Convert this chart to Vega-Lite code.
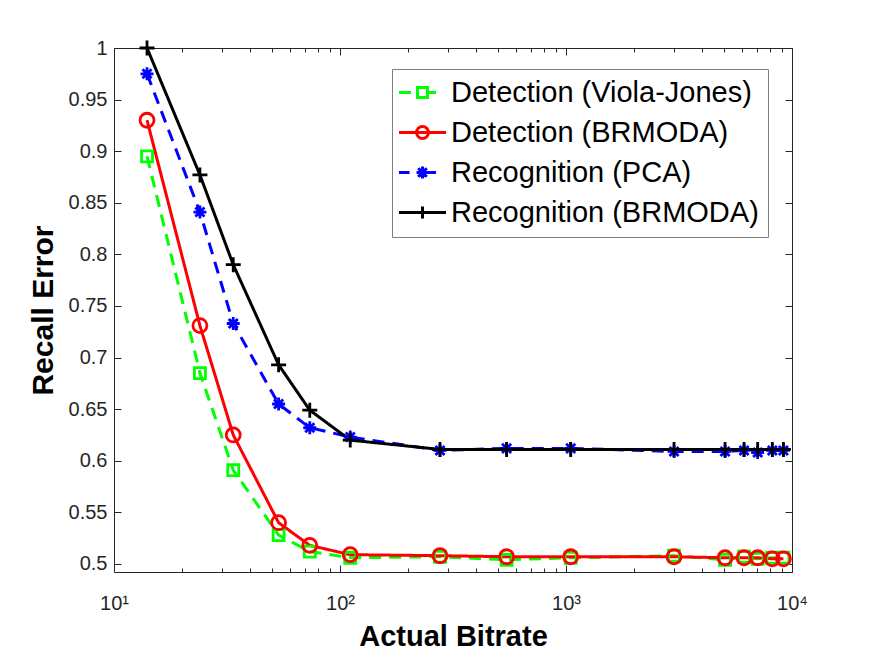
{
  "$schema": "https://vega.github.io/schema/vega-lite/v6.json",
  "width": 678,
  "height": 524,
  "autosize": {"type": "none"},
  "padding": {"left": 114, "top": 48, "right": 83, "bottom": 85},
  "background": "white",
  "config": {
    "font": "Liberation Sans",
    "view": {"stroke": "#262626", "strokeWidth": 1},
    "axis": {"domain": false, "grid": false, "tickColor": "#262626", "tickWidth": 1, "labelColor": "#262626", "titleColor": "#262626"},
    "legend": {"symbolOpacity": 1}
  },
  "data": {"values": [
    {"s": "Detection (Viola-Jones)", "x": 14, "y": 0.895},
    {"s": "Detection (Viola-Jones)", "x": 24, "y": 0.685},
    {"s": "Detection (Viola-Jones)", "x": 33.7, "y": 0.591},
    {"s": "Detection (Viola-Jones)", "x": 53.5, "y": 0.528},
    {"s": "Detection (Viola-Jones)", "x": 73.5, "y": 0.512},
    {"s": "Detection (Viola-Jones)", "x": 111, "y": 0.506},
    {"s": "Detection (Viola-Jones)", "x": 277, "y": 0.507},
    {"s": "Detection (Viola-Jones)", "x": 546, "y": 0.504},
    {"s": "Detection (Viola-Jones)", "x": 1049, "y": 0.506},
    {"s": "Detection (Viola-Jones)", "x": 3006, "y": 0.508},
    {"s": "Detection (Viola-Jones)", "x": 5056, "y": 0.504},
    {"s": "Detection (Viola-Jones)", "x": 6135, "y": 0.507},
    {"s": "Detection (Viola-Jones)", "x": 7048, "y": 0.505},
    {"s": "Detection (Viola-Jones)", "x": 8183, "y": 0.506},
    {"s": "Detection (Viola-Jones)", "x": 9161, "y": 0.506},
    {"s": "Detection (BRMODA)", "x": 14, "y": 0.930},
    {"s": "Detection (BRMODA)", "x": 24, "y": 0.731},
    {"s": "Detection (BRMODA)", "x": 33.7, "y": 0.625},
    {"s": "Detection (BRMODA)", "x": 53.5, "y": 0.540},
    {"s": "Detection (BRMODA)", "x": 73.5, "y": 0.518},
    {"s": "Detection (BRMODA)", "x": 111, "y": 0.509},
    {"s": "Detection (BRMODA)", "x": 277, "y": 0.508},
    {"s": "Detection (BRMODA)", "x": 546, "y": 0.507},
    {"s": "Detection (BRMODA)", "x": 1049, "y": 0.507},
    {"s": "Detection (BRMODA)", "x": 3006, "y": 0.507},
    {"s": "Detection (BRMODA)", "x": 5056, "y": 0.506},
    {"s": "Detection (BRMODA)", "x": 6135, "y": 0.506},
    {"s": "Detection (BRMODA)", "x": 7048, "y": 0.506},
    {"s": "Detection (BRMODA)", "x": 8183, "y": 0.505},
    {"s": "Detection (BRMODA)", "x": 9161, "y": 0.505},
    {"s": "Recognition (PCA)", "x": 14, "y": 0.975},
    {"s": "Recognition (PCA)", "x": 24, "y": 0.841},
    {"s": "Recognition (PCA)", "x": 33.7, "y": 0.733},
    {"s": "Recognition (PCA)", "x": 53.5, "y": 0.655},
    {"s": "Recognition (PCA)", "x": 73.5, "y": 0.632},
    {"s": "Recognition (PCA)", "x": 111, "y": 0.623},
    {"s": "Recognition (PCA)", "x": 277, "y": 0.610},
    {"s": "Recognition (PCA)", "x": 546, "y": 0.612},
    {"s": "Recognition (PCA)", "x": 1049, "y": 0.612},
    {"s": "Recognition (PCA)", "x": 3006, "y": 0.609},
    {"s": "Recognition (PCA)", "x": 5056, "y": 0.609},
    {"s": "Recognition (PCA)", "x": 6135, "y": 0.610},
    {"s": "Recognition (PCA)", "x": 7048, "y": 0.608},
    {"s": "Recognition (PCA)", "x": 8183, "y": 0.610},
    {"s": "Recognition (PCA)", "x": 9161, "y": 0.610},
    {"s": "Recognition (BRMODA)", "x": 14, "y": 1.0},
    {"s": "Recognition (BRMODA)", "x": 24, "y": 0.877},
    {"s": "Recognition (BRMODA)", "x": 33.7, "y": 0.790},
    {"s": "Recognition (BRMODA)", "x": 53.5, "y": 0.693},
    {"s": "Recognition (BRMODA)", "x": 73.5, "y": 0.649},
    {"s": "Recognition (BRMODA)", "x": 111, "y": 0.620},
    {"s": "Recognition (BRMODA)", "x": 277, "y": 0.611},
    {"s": "Recognition (BRMODA)", "x": 546, "y": 0.611},
    {"s": "Recognition (BRMODA)", "x": 1049, "y": 0.611},
    {"s": "Recognition (BRMODA)", "x": 3006, "y": 0.611},
    {"s": "Recognition (BRMODA)", "x": 5056, "y": 0.611},
    {"s": "Recognition (BRMODA)", "x": 6135, "y": 0.611},
    {"s": "Recognition (BRMODA)", "x": 7048, "y": 0.611},
    {"s": "Recognition (BRMODA)", "x": 8183, "y": 0.611},
    {"s": "Recognition (BRMODA)", "x": 9161, "y": 0.611}
  ]},
  "resolve": {"axis": {"x": "independent", "y": "independent"}},
  "layer": [
    {
      "mark": {"type": "line", "strokeWidth": 3, "clip": true},
      "encoding": {
        "x": {"field": "x", "type": "quantitative", "scale": {"type": "log", "domain": [10, 10000], "nice": false},
          "axis": {"orient": "bottom", "title": "Actual Bitrate", "values": [10, 100, 1000, 10000], "tickSize": -7,
            "labelExpr": "datum.value < 50 ? '10¹' : datum.value < 500 ? '10²' : datum.value < 5000 ? '10³' : '10⁴'",
            "labelFontSize": 20, "labelPadding": 28, "labelFlush": false, "labelOverlap": false,
            "titleFontSize": 29, "titleFontWeight": "bold", "titleColor": "#000000", "titlePadding": 9}},
        "y": {"field": "y", "type": "quantitative", "scale": {"domain": [0.4922, 1], "nice": false, "zero": false},
          "axis": {"orient": "left", "title": "Recall Error", "values": [0.5, 0.55, 0.6, 0.65, 0.7, 0.75, 0.8, 0.85, 0.9, 0.95, 1],
            "format": "~g", "tickSize": -7, "labelFontSize": 20, "labelPadding": 14, "labelFlush": false, "labelOverlap": false,
            "titleFontSize": 30, "titleFontWeight": "bold", "titleColor": "#000000", "titlePadding": 10}},
        "color": {"field": "s", "type": "nominal",
          "scale": {"domain": ["Detection (Viola-Jones)", "Detection (BRMODA)", "Recognition (PCA)", "Recognition (BRMODA)"],
                    "range": ["#00ff00", "#ff0000", "#0000ff", "#000000"]},
          "legend": {"title": null, "orient": "none", "legendX": 278, "legendY": 21,
            "labelFontSize": 29, "labelColor": "#000000", "labelLimit": 500,
            "symbolSize": 400, "symbolStrokeWidth": 3, "symbolOffset": 7, "labelOffset": 14, "rowPadding": 10,
            "symbolFillColor": "transparent", "symbolOpacity": 1,
            "padding": 9, "fillColor": "white", "strokeColor": "#7f7f7f"}},
        "strokeDash": {"field": "s", "type": "nominal",
          "scale": {"domain": ["Detection (BRMODA)", "Detection (Viola-Jones)", "Recognition (BRMODA)", "Recognition (PCA)"],
                    "range": [[1, 0], [12, 8], [1, 0], [12, 8]]},
          "legend": null}
      }
    },
    {
      "mark": {"type": "point", "opacity": 0, "filled": false},
      "encoding": {
        "x": {"field": "x", "type": "quantitative",
          "axis": {"orient": "top", "title": null, "labels": false, "tickSize": -7, "values": [10, 100, 1000, 10000]}},
        "y": {"field": "y", "type": "quantitative",
          "axis": {"orient": "right", "title": null, "labels": false, "tickSize": -7, "values": [0.5, 0.55, 0.6, 0.65, 0.7, 0.75, 0.8, 0.85, 0.9, 0.95, 1]}},
        "shape": {"field": "s", "type": "nominal",
          "scale": {"domain": ["Detection (Viola-Jones)", "Detection (BRMODA)", "Recognition (PCA)", "Recognition (BRMODA)"],
                    "range": [
                      "M-2.35,0H-1.15M0.6,0H1.35M-0.5,-0.5H0.5V0.5H-0.5Z",
                      "M-2.35,0H2.35M0.6,0A0.6,0.6 0 1,1 -0.6,0A0.6,0.6 0 1,1 0.6,0",
                      "M-2.35,0H-1.3M0.6,0H1.35M-0.6,0H0.6M0,-0.6V0.6M-0.43,-0.43L0.43,0.43M-0.43,0.43L0.43,-0.43",
                      "M-2.35,0H2.35M0,-0.6V0.6"]},
          "legend": null}
      }
    },
    {
      "transform": [{"filter": "datum.s == 'Detection (Viola-Jones)'"}],
      "mark": {"type": "point", "shape": "square", "size": 121, "filled": false, "strokeWidth": 2.8, "color": "#00ff00", "opacity": 1},
      "encoding": {
        "x": {"field": "x", "type": "quantitative",
          "axis": {"orient": "bottom", "title": null, "labels": false, "tickSize": -4,
            "values": [20, 30, 40, 50, 60, 70, 80, 90, 200, 300, 400, 500, 600, 700, 800, 900, 2000, 3000, 4000, 5000, 6000, 7000, 8000, 9000]}},
        "y": {"field": "y", "type": "quantitative", "axis": null}
      }
    },
    {
      "transform": [{"filter": "datum.s == 'Detection (BRMODA)'"}],
      "mark": {"type": "point", "shape": "circle", "size": 196, "filled": false, "strokeWidth": 2.8, "color": "#ff0000", "opacity": 1},
      "encoding": {
        "x": {"field": "x", "type": "quantitative",
          "axis": {"orient": "top", "title": null, "labels": false, "tickSize": -4,
            "values": [20, 30, 40, 50, 60, 70, 80, 90, 200, 300, 400, 500, 600, 700, 800, 900, 2000, 3000, 4000, 5000, 6000, 7000, 8000, 9000]}},
        "y": {"field": "y", "type": "quantitative", "axis": null}
      }
    },
    {
      "transform": [{"filter": "datum.s == 'Recognition (PCA)'"}],
      "mark": {"type": "point", "shape": "M-1,0H1M0,-1V1M-0.7,-0.7L0.7,0.7M-0.7,0.7L0.7,-0.7", "size": 169, "filled": false, "strokeWidth": 2.8, "color": "#0000ff", "opacity": 1},
      "encoding": {
        "x": {"field": "x", "type": "quantitative", "axis": null},
        "y": {"field": "y", "type": "quantitative", "axis": null}
      }
    },
    {
      "transform": [{"filter": "datum.s == 'Recognition (BRMODA)'"}],
      "mark": {"type": "point", "shape": "M-1,0H1M0,-1V1", "size": 225, "filled": false, "strokeWidth": 2.8, "color": "#000000", "opacity": 1},
      "encoding": {
        "x": {"field": "x", "type": "quantitative", "axis": null},
        "y": {"field": "y", "type": "quantitative", "axis": null}
      }
    }
  ]
}
